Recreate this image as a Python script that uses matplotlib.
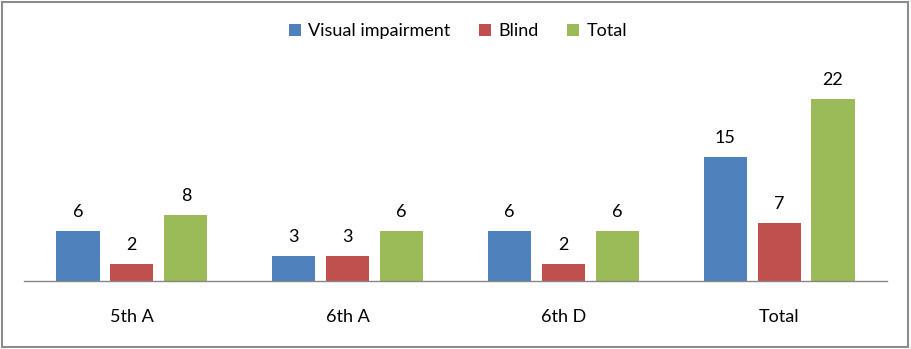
import matplotlib
matplotlib.use('Agg')
from matplotlib import pyplot as plt
from matplotlib import patches
import numpy as np

categories = ['5th A', '6th A', '6th D', 'Total']
visual_impairment = [6, 3, 6, 15]
blind = [2, 3, 2, 7]
total = [8, 6, 6, 22]

series = [
    ('Visual impairment', visual_impairment, '#4F81BD'),
    ('Blind', blind, '#C0504D'),
    ('Total', total, '#9BBB59'),
]

plt.rcParams['font.family'] = ['Lato', 'DejaVu Sans']
FS = 13

fig = plt.figure(figsize=(9.11, 3.49), dpi=100)
ax = fig.add_axes([24/911, 1 - 281/349, (887 - 24)/911, (281 - 74)/349])

# chart border
fig.patches.append(patches.Rectangle((2/911, 2/349), 906/911, 345/349,
                                     transform=fig.transFigure, fill=False,
                                     edgecolor='#8C8C8C', linewidth=1.5))

x = np.arange(len(categories))
offsets = [-0.25, 0, 0.25]
for (name, vals, color), off in zip(series, offsets):
    bars = ax.bar(x + off, vals, width=0.2, color=color, label=name)
    for b, v in zip(bars, vals):
        ax.annotate(str(v), (b.get_x() + b.get_width() / 2, b.get_height()),
                    xytext=(0, 8), textcoords='offset points',
                    ha='center', va='bottom', fontsize=FS, color='black')

ax.set_xlim(-0.5, len(categories) - 0.5)
ax.set_ylim(0, 25)
ax.set_yticks([])
ax.set_xticks(x)
ax.set_xticklabels(categories, fontsize=FS)
ax.tick_params(axis='x', length=0, pad=20)
for s in ['top', 'right', 'left']:
    ax.spines[s].set_visible(False)
ax.spines['bottom'].set_color('#868686')
ax.spines['bottom'].set_linewidth(1)

fig.legend(loc='center', bbox_to_anchor=(458/911, 1 - 31/349), ncol=3,
           frameon=False, fontsize=FS, handlelength=0.65, handleheight=0.65,
           handletextpad=0.4, columnspacing=1.6)

fig.savefig('out.png', dpi=100)
